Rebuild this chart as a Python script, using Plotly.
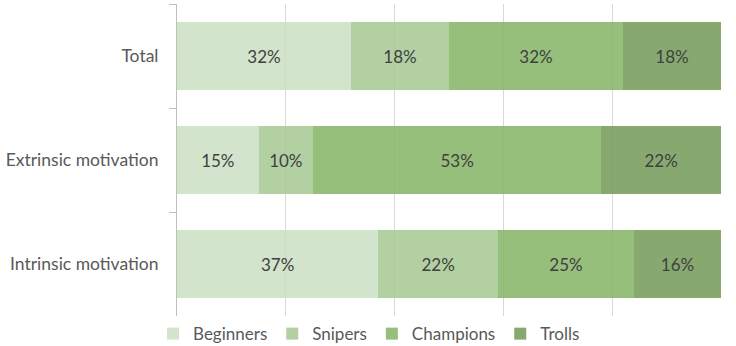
import plotly.graph_objects as go

categories = ["Total", "Extrinsic motivation", "Intrinsic motivation"]
series_names = ["Beginners", "Snipers", "Champions", "Trolls"]
beginners = [32, 15, 37]
snipers = [18, 10, 22]
champions = [32, 53, 25]
trolls = [18, 22, 16]
x_ticks = [0, 20, 40, 60, 80, 100]

values = [beginners, snipers, champions, trolls]
colors = ["rgba(200,222,191,0.82)", "rgba(164,200,146,0.85)",
          "rgba(134,182,104,0.88)", "rgba(122,160,96,0.9)"]

fig = go.Figure()
for name, vals, col in zip(series_names, values, colors):
    fig.add_trace(go.Bar(
        y=categories, x=vals, name=name, orientation="h",
        marker=dict(color=col, line=dict(width=0)),
        text=[f"{v}%" for v in vals], textposition="inside",
        insidetextanchor="middle", textangle=0, constraintext="none",
        textfont=dict(color="#404040", size=17, family="Lato"),
        hoverinfo="skip",
    ))

fig.update_layout(
    barmode="stack", bargap=0.34,
    width=736, height=346,
    margin=dict(l=177, r=15, t=4, b=30, autoexpand=False),
    paper_bgcolor="white", plot_bgcolor="white",
    font=dict(family="Lato", size=17, color="#595959"),
    showlegend=True,
    legend=dict(orientation="h", x=0.353, xanchor="center", y=-0.058,
                yanchor="middle", font=dict(size=17, color="#595959"),
                traceorder="normal", itemwidth=30),
)
fig.update_xaxes(range=[0, 100], tickvals=x_ticks, showticklabels=False,
                 showgrid=True, gridcolor="#d9d9d9", gridwidth=1,
                 zeroline=False, showline=False, automargin=False)
fig.update_yaxes(autorange="reversed", showline=True, linecolor="#bfbfbf",
                 linewidth=1, ticks="outside", ticklen=7, tickcolor="#bfbfbf",
                 tickson="boundaries", showgrid=False, automargin=False,
                 ticklabelstandoff=14, tickfont=dict(size=17.5))

fig.write_html("out.html", config={"displayModeBar": False},
               post_script="document.body.style.margin='0';document.body.style.overflow='hidden';")
